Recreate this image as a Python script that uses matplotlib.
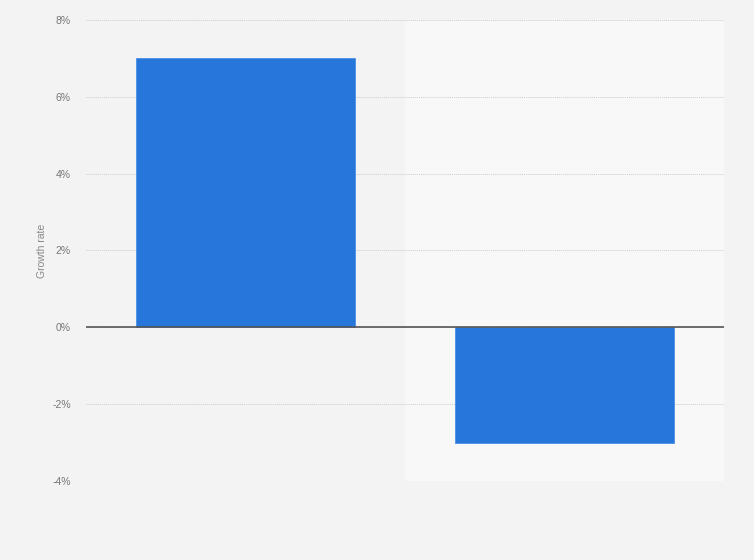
import numpy as np
import matplotlib
matplotlib.use('Agg')
import matplotlib.pyplot as plt
from matplotlib.ticker import FuncFormatter

plt.rcParams['font.family'] = ['Liberation Sans', 'DejaVu Sans']

# data (no category labels shown)
categories = ['A', 'B']
growth = [7.0, -3.0]
yticks = [-4, -2, 0, 2, 4, 6, 8]

BG = '#f3f3f3'
BAND = '#f8f8f8'
BAR = '#2776dc'

fig = plt.figure(figsize=(7.54, 5.60), dpi=100, facecolor=BG)
ax = fig.add_axes([0.1141, 0.1411, 0.8461, 0.8232])
ax.set_facecolor(BG)

x = np.arange(len(categories))
# lighter band behind every second category
for i in x[1::2]:
    ax.axvspan(i - 0.5, i + 0.5, color=BAND, zorder=0, lw=0)

ax.bar(x, growth, width=0.687, color=BAR, edgecolor='#4a8fe6', linewidth=0.6, zorder=3)
ax.axhline(0, color='#555555', lw=1.2, zorder=4)

ax.set_xlim(-0.5, len(categories) - 0.5)
ax.set_ylim(-4, 8)
ax.set_yticks(yticks)
ax.yaxis.set_major_formatter(FuncFormatter(lambda v, p: f'{v:.0f}%'))
ax.set_xticks(x)
ax.set_xticklabels([])
ax.tick_params(axis='x', length=0)
ax.tick_params(axis='y', length=0, labelsize=7.5, colors='#777777', pad=11)

ax.grid(axis='y', color='#cccccc', linestyle=(0, (1, 1)), lw=0.7, zorder=1)
for s in ax.spines.values():
    s.set_visible(False)

ax.set_ylabel('Growth rate', fontsize=7.5, color='#888888', labelpad=3.5)

plt.savefig('out.png', dpi=100, facecolor=BG)
plt.close()
